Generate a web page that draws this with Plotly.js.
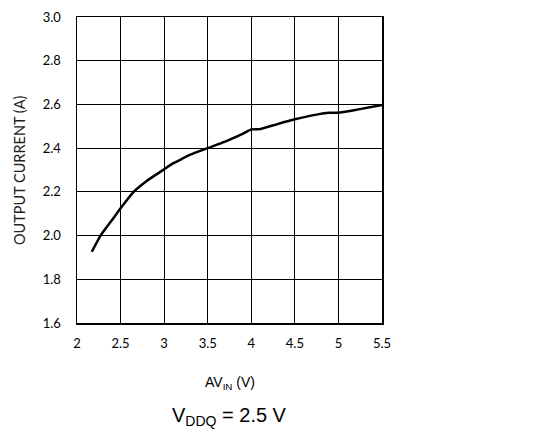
<!DOCTYPE html>
<html>
<head>
<meta charset="utf-8">
<script src="https://cdn.plot.ly/plotly-3.0.1.min.js"></script>
<style>html,body{margin:0;padding:0;background:#fff}</style>
</head>
<body>
<div id="chart" style="width:534px;height:429px"></div>
<script>
const avin = [2.17, 2.27, 2.4, 2.5, 2.65, 2.8, 3.0, 3.1, 3.2, 3.3, 3.5, 3.7, 3.9, 4.0, 4.1, 4.3, 4.5, 4.7, 4.9, 5.0, 5.2, 5.5];
const current = [1.926, 2.0, 2.07, 2.125, 2.2, 2.25, 2.303, 2.33, 2.35, 2.37, 2.40, 2.43, 2.465, 2.486, 2.487, 2.51, 2.532, 2.55, 2.562, 2.562, 2.575, 2.597];
const xTicks = [2, 2.5, 3, 3.5, 4, 4.5, 5, 5.5];
const xTickText = ["2", "2.5", "3", "3.5", "4", "4.5", "5", "5.5"];
const yTicks = [1.6, 1.8, 2.0, 2.2, 2.4, 2.6, 2.8, 3.0];
const yTickText = ["1.6", "1.8", "2.0", "2.2", "2.4", "2.6", "2.8", "3.0"];

const trace = {
  x: avin, y: current, type: 'scatter', mode: 'lines',
  line: {color: '#000', width: 2.5, shape: 'spline', smoothing: 0.4},
  hoverinfo: 'skip'
};

const layout = {
  width: 534, height: 429,
  margin: {l: 77, r: 152, t: 17, b: 106},
  paper_bgcolor: '#fff', plot_bgcolor: '#fff',
  showlegend: false,
  font: {family: 'Lato, "Open Sans", sans-serif', color: '#000', size: 12},
  xaxis: {
    range: [2, 5.5], tickvals: xTicks, ticktext: xTickText,
    showgrid: true, gridcolor: '#000', gridwidth: 1,
    showline: true, linecolor: '#000', linewidth: 1.5, mirror: true,
    ticks: '', ticklabelstandoff: 8, zeroline: false,
    tickfont: {family: 'Lato, sans-serif', size: 13, color: '#000'}
  },
  yaxis: {
    range: [1.6, 3.0], tickvals: yTicks, ticktext: yTickText,
    showgrid: true, gridcolor: '#000', gridwidth: 1,
    showline: true, linecolor: '#000', linewidth: 1.5, mirror: true,
    ticks: '', ticklabelstandoff: 12, zeroline: false,
    tickfont: {family: 'Lato, sans-serif', size: 13, color: '#000'}
  },
  annotations: [
    {text: 'OUTPUT CURRENT (A)', xref: 'paper', yref: 'paper', x: -0.19, y: 0.5,
     xanchor: 'center', yanchor: 'middle', textangle: -90, showarrow: false,
     font: {family: 'Lato, sans-serif', size: 14.5, color: '#222'}},
    {text: 'AV<sub>IN</sub> (V)', xref: 'paper', yref: 'paper', x: 0.5, y: -0.196,
     xanchor: 'center', yanchor: 'middle', showarrow: false,
     font: {family: '"Liberation Sans", Arial, sans-serif', size: 14, color: '#000'}},
    {text: 'V<sub>DDQ</sub> = 2.5 V', xref: 'paper', yref: 'paper', x: 0.5, y: -0.305,
     xanchor: 'center', yanchor: 'middle', showarrow: false,
     font: {family: '"Liberation Sans", Arial, sans-serif', size: 20, color: '#000'}}
  ]
};

Plotly.newPlot('chart', [trace], layout, {displayModeBar: false, staticPlot: true});
</script>
</body>
</html>
